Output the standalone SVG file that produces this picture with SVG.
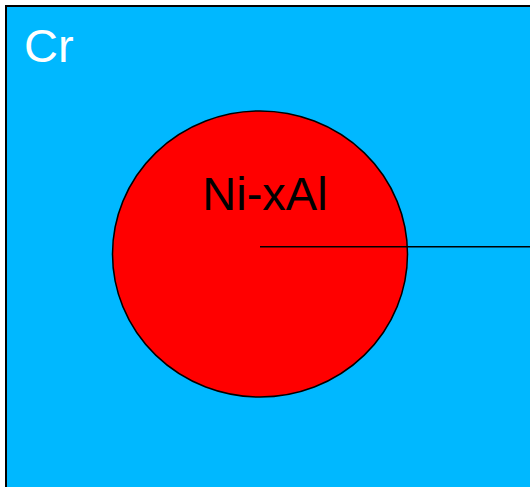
<svg xmlns="http://www.w3.org/2000/svg" width="530" height="487" viewBox="0 0 530 487">
<style>
text{font-family:"Liberation Sans",Arial,sans-serif;font-size:47px}
</style>
<rect width="530" height="487" fill="#fff"/>
<g id="cr">
<rect x="6" y="6" width="540" height="500" fill="#00b8ff" stroke="#000" stroke-width="2"/>
<text x="24" y="62" fill="#fff">Cr</text>
</g>
<g id="nixal">
<ellipse cx="260" cy="254" rx="147.5" ry="143" fill="#ff0000" stroke="#000" stroke-width="1.5"/>
<text x="265" y="209.5" text-anchor="middle" fill="#000">Ni-xAl</text>
</g>
<g id="connectors">
<line x1="260" y1="246.7" x2="530" y2="246.7" stroke="#000" stroke-width="1.5"/>
</g>
</svg>
